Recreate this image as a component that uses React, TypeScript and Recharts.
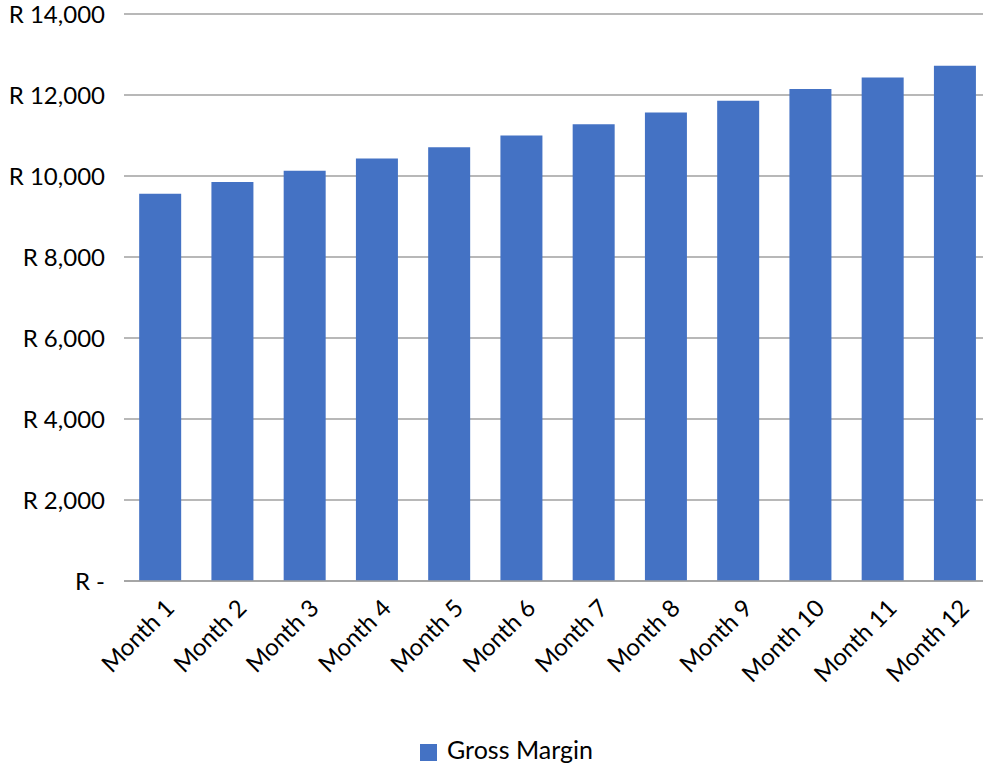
import React from "react";
import { BarChart, Bar, XAxis, YAxis, CartesianGrid, Legend } from "recharts";

const months = [
  "Month 1", "Month 2", "Month 3", "Month 4", "Month 5", "Month 6",
  "Month 7", "Month 8", "Month 9", "Month 10", "Month 11", "Month 12",
];
const grossMargin = [9560, 9850, 10130, 10430, 10710, 11000, 11280, 11570, 11860, 12150, 12430, 12720];
const yTicks = [0, 2000, 4000, 6000, 8000, 10000, 12000, 14000];

const data = months.map((m, i) => ({ month: m, gross: grossMargin[i] }));

const FONT = "Lato, 'Open Sans', sans-serif";

const fmtRand = (v: number) => (v === 0 ? "R -" : "R " + v.toLocaleString("en-US"));

// eslint-disable-next-line @typescript-eslint/no-explicit-any
function MonthTick(props: any) {
  const { x, y, payload } = props;
  return (
    <g transform={`translate(${x + 9},${y + 14})`}>
      <text
        transform="rotate(-45)"
        textAnchor="end"
        dominantBaseline="central"
        fontSize={24}
        fontFamily={FONT}
        fill="#000"
      >
        {payload.value}
      </text>
    </g>
  );
}

export default function App() {
  return (
    <div style={{ position: "absolute", left: 0, top: 0, background: "#fff" }}>
      <BarChart
        width={983}
        height={772}
        data={data}
        margin={{ top: 14, right: -8, left: 0, bottom: 8 }}
        barCategoryGap="21%"
      >
        <CartesianGrid vertical={false} stroke="#a0a0a0" strokeWidth={1.5} />
        <XAxis
          dataKey="month"
          interval={0}
          height={153}
          tickLine={false}
          axisLine={{ stroke: "#a0a0a0", strokeWidth: 1.5 }}
          tick={<MonthTick />}
        />
        <YAxis
          width={124}
          domain={[0, 14000]}
          ticks={yTicks}
          axisLine={false}
          tickLine={false}
          tickSize={0}
          tickMargin={19}
          tickFormatter={fmtRand}
          tick={{ fontSize: 24, fill: "#000", fontFamily: FONT }}
        />
        <Legend
          verticalAlign="bottom"
          iconType="square"
          iconSize={17}
          wrapperStyle={{ fontFamily: FONT, fontSize: 25, paddingLeft: 16 }}
          formatter={(v) => <span style={{ color: "#000", marginLeft: 6 }}>{v}</span>}
        />
        <Bar dataKey="gross" name="Gross Margin" fill="#4472C4" isAnimationActive={false} />
      </BarChart>
    </div>
  );
}
